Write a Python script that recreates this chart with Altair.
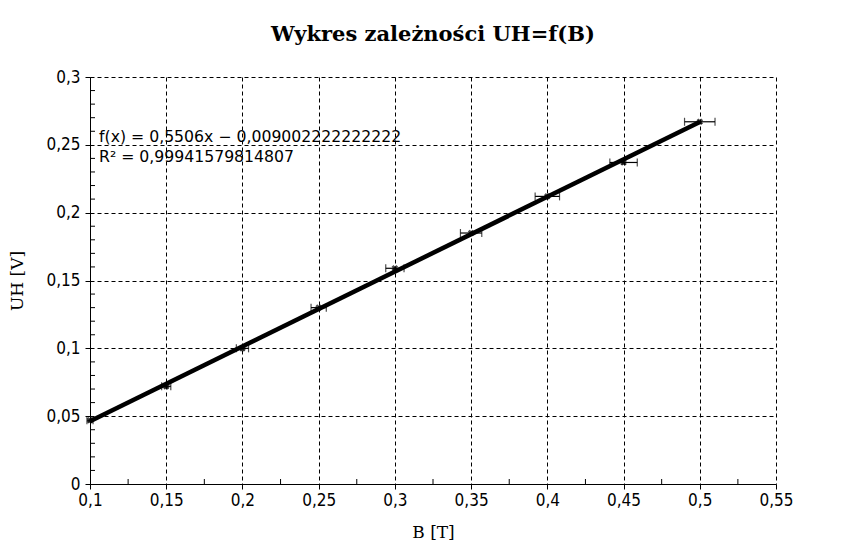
import altair as alt
import pandas as pd

# Data
B = [0.10, 0.15, 0.20, 0.25, 0.30, 0.35, 0.40, 0.45, 0.50]
UH = [0.047, 0.072, 0.100, 0.130, 0.159, 0.185, 0.212, 0.237, 0.267]
B_err = [0.002, 0.003, 0.004, 0.005, 0.006, 0.007, 0.008, 0.009, 0.010]

x_major = [0.1, 0.15, 0.2, 0.25, 0.3, 0.35, 0.4, 0.45, 0.5, 0.55]
x_minor = [0.125, 0.175, 0.225, 0.275, 0.325, 0.375, 0.425, 0.475, 0.525]
y_major = [0, 0.05, 0.1, 0.15, 0.2, 0.25, 0.3]
y_minor = [0.01, 0.02, 0.03, 0.04, 0.06, 0.07, 0.08, 0.09, 0.11, 0.12, 0.13, 0.14,
           0.16, 0.17, 0.18, 0.19, 0.21, 0.22, 0.23, 0.24, 0.26, 0.27, 0.28, 0.29]

fit_text = ["f(x) = 0,5506x − 0,009002222222222", "R² = 0,99941579814807"]

W, H = 686, 407

df = pd.DataFrame({"B": B, "UH": UH, "err": B_err})
df["lo"] = df["B"] - df["err"]
df["hi"] = df["B"] + df["err"]

label_font = "DejaVu Sans Condensed, Liberation Sans Narrow, Liberation Sans"
serif = "DejaVu Serif"
comma = "replace(format(datum.value, ''), '.', ',')"

xscale = alt.Scale(domain=[0.1, 0.55], nice=False, zero=False)
yscale = alt.Scale(domain=[0, 0.3], nice=False, zero=False)

xaxis = alt.Axis(values=x_major, labelExpr=comma, title="B [T]",
                 grid=True, gridColor="black", gridDash=[4, 3], gridOpacity=1,
                 domainColor="black", tickColor="black", tickSize=5,
                 labelFont=label_font, labelFontSize=17, labelColor="black",
                 labelPadding=3, labelFlush=False,
                 titleFont=serif, titleFontSize=17, titleFontWeight="normal",
                 titleColor="black", titlePadding=16)
yaxis = alt.Axis(values=y_major, labelExpr=comma, title="UH [V]",
                 grid=True, gridColor="black", gridDash=[4, 3], gridOpacity=1,
                 domainColor="black", tickColor="black", tickSize=5,
                 labelFont=label_font, labelFontSize=17, labelColor="black",
                 labelPadding=5, labelFlush=False,
                 titleFont=serif, titleFontSize=17, titleFontWeight="normal",
                 titleColor="black", titlePadding=19)

base = alt.Chart(df)

fit = base.transform_regression("B", "UH").mark_line(
    color="black", strokeWidth=4.5, clip=True
).encode(x=alt.X("B:Q", scale=xscale, axis=xaxis),
         y=alt.Y("UH:Q", scale=yscale, axis=yaxis))

errbar = base.mark_rule(color="black", strokeWidth=1.2).encode(
    x=alt.X("lo:Q", scale=xscale), x2="hi:Q", y=alt.Y("UH:Q", scale=yscale))
cap_lo = base.mark_tick(color="black", orient="vertical", size=8, thickness=1.2).encode(
    x=alt.X("lo:Q", scale=xscale), y=alt.Y("UH:Q", scale=yscale))
cap_hi = base.mark_tick(color="black", orient="vertical", size=8, thickness=1.2).encode(
    x=alt.X("hi:Q", scale=xscale), y=alt.Y("UH:Q", scale=yscale))
pts = base.mark_point(shape="cross", size=45, color="black", filled=True, angle=45).encode(
    x=alt.X("B:Q", scale=xscale), y=alt.Y("UH:Q", scale=yscale))
pts2 = base.mark_point(shape="triangle-up", size=25, color="black", filled=True).encode(
    x=alt.X("B:Q", scale=xscale), y=alt.Y("UH:Q", scale=yscale))

xmin_df = pd.DataFrame({"v": x_minor})
ymin_df = pd.DataFrame({"v": y_minor})
xminor = alt.Chart(xmin_df).mark_rule(color="black", strokeWidth=1).encode(
    x=alt.X("v:Q", scale=xscale), y=alt.value(H), y2=alt.value(H - 5))
yminor = alt.Chart(ymin_df).mark_rule(color="black", strokeWidth=1).encode(
    y=alt.Y("v:Q", scale=yscale), x=alt.value(0), x2=alt.value(5))

txt = alt.Chart(pd.DataFrame({"t": [fit_text]})).mark_text(
    align="left", baseline="middle", font="DejaVu Sans", fontSize=15.7,
    color="black", lineHeight=20
).encode(text="t:N", x=alt.value(9), y=alt.value(60))

chart = alt.layer(fit, errbar, cap_lo, cap_hi, pts, pts2, xminor, yminor, txt).properties(
    width=W, height=H,
    padding={"left": 0, "top": 16, "right": 5, "bottom": 5},
    title=alt.TitleParams("Wykres zależności UH=f(B)", font=serif, fontSize=21,
                          fontWeight="bold", color="black", offset=23),
    background="white",
).configure_view(stroke=None)

chart.save("out.html", embed_options={"renderer": "svg", "actions": False})
